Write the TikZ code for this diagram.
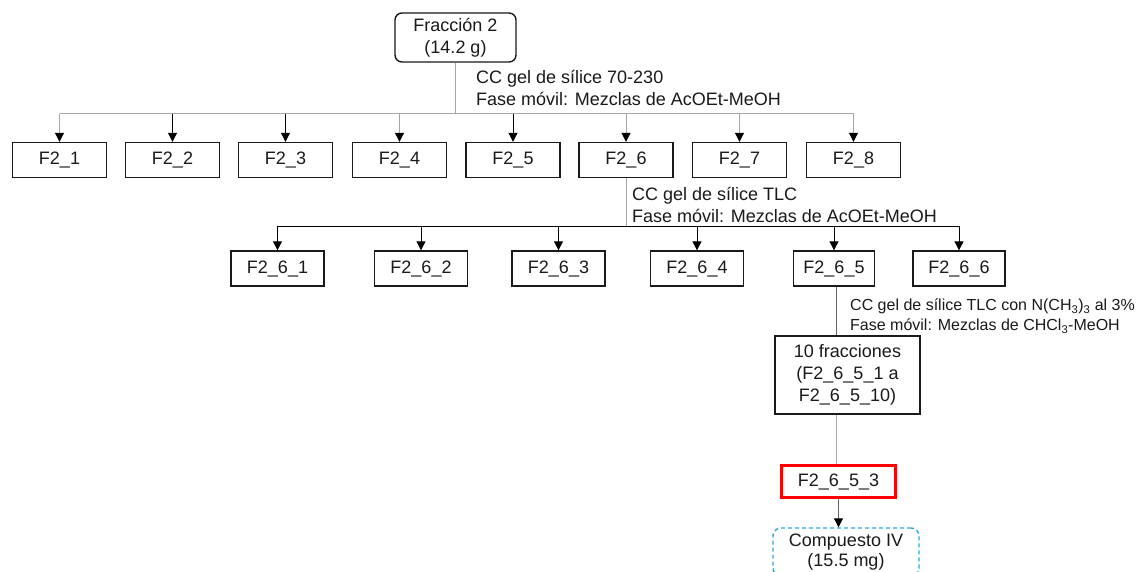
\documentclass[tikz,border=0pt]{standalone}
\usepackage{fontspec}
\setmainfont{Liberation Sans}
\usetikzlibrary{arrows.meta}
\definecolor{lgray}{HTML}{A6A6A6}
\definecolor{dgray}{HTML}{666666}
\definecolor{txt}{HTML}{1A1A1A}
\definecolor{cyanb}{HTML}{29A9E0}
\definecolor{redb}{HTML}{FF0000}
\begin{document}
\begin{tikzpicture}[x=1pt,y=-1pt,
  every node/.style={inner sep=0pt, text=txt},
  boxf/.style={draw=txt, line width=1.4pt, minimum width=94pt, minimum height=35pt,
    font=\fontsize{18}{22}\selectfont, align=center},
  note/.style={anchor=base west, font=\fontsize{18}{22}\selectfont},
  notesm/.style={anchor=base west, font=\fontsize{16}{20}\selectfont},
  arr/.style={-{Triangle[width=9pt,length=9pt,color=black]}, line width=1pt},
  lg/.style={draw=lgray, line width=1pt},
  bk/.style={draw=black, line width=1pt}]
\fill[white] (0,0) rectangle (1141,571);
\useasboundingbox (0,0) rectangle (1141,571);

% top
\node[boxf, rounded corners=7pt, minimum width=121pt, minimum height=49pt] (top) at (455.5,37.5) {Fracción 2\\(14.2 g)};
\coordinate (h1) at (455.5,113.5);
\node[note] (n1a) at (476,83) {CC gel de sílice 70-230};
\node[note] (n1b) at (476,105) {Fase móvil: Mezclas de AcOEt-MeOH};

% level 1
\node[boxf] (f21) at (59.5,160) {F2\_1};
\node[boxf] (f22) at (172.5,160) {F2\_2};
\node[boxf] (f23) at (285.5,160) {F2\_3};
\node[boxf] (f24) at (399.5,160) {F2\_4};
\node[boxf] (f25) at (513,160) {F2\_5};
\node[boxf] (f26) at (626,160) {F2\_6};
\node[boxf] (f27) at (739.5,160) {F2\_7};
\node[boxf] (f28) at (853.5,160) {F2\_8};

\draw[lg] (top.south) -- (h1);
\draw[lg] (f21.north |- h1) -- (f28.north |- h1);
\foreach \n/\c in {f21/lgray,f22/black,f23/black,f24/lgray,f25/black,f26/lgray,f27/lgray,f28/lgray}
  \draw[arr, draw=\c] (\n.north |- h1) -- (\n.north);

% level 2
\coordinate (h2) at (626,226);
\node[note] (n2a) at (632,200.5) {CC gel de sílice TLC};
\node[note] (n2b) at (632,222.5) {Fase móvil: Mezclas de AcOEt-MeOH};
\node[boxf, minimum width=93pt] (f261) at (277.5,268.5) {F2\_6\_1};
\node[boxf, minimum width=93pt] (f262) at (421,268.5) {F2\_6\_2};
\node[boxf, minimum width=93pt] (f263) at (558.5,268.5) {F2\_6\_3};
\node[boxf, minimum width=93pt] (f264) at (697,268.5) {F2\_6\_4};
\node[boxf, minimum width=81pt] (f265) at (834,268.5) {F2\_6\_5};
\node[boxf, minimum width=92pt] (f266) at (959,268.5) {F2\_6\_6};

\draw[lg] (f26.south) -- (f26.south |- h2);
\draw[bk] (f261.north |- h2) -- (f266.north |- h2);
\foreach \n in {f261,f262,f263,f264,f265,f266}
  \draw[arr, draw=black] (\n.north |- h2) -- (\n.north);

% level 3
\node[notesm] (n3a) at (850,310.5) {CC gel de sílice TLC con N(CH\textsubscript{3})\textsubscript{3} al 3\%};
\node[notesm] (n3b) at (850,330.5) {Fase móvil: Mezclas de CHCl\textsubscript{3}-MeOH};
\node[boxf, minimum width=145pt, minimum height=78pt] (frac) at (847.5,375) {10 fracciones\\(F2\_6\_5\_1 a\\F2\_6\_5\_10)};
\node[boxf, draw=redb, line width=3.2pt, minimum width=114pt, minimum height=32pt] (red) at (838.5,481.5) {F2\_6\_5\_3};
\node[boxf, draw=cyanb, dash pattern=on 4pt off 3pt, rounded corners=8pt, minimum width=146pt, minimum height=48pt, font=\fontsize{18}{20}\selectfont] (comp) at (846,552) {Compuesto IV\\(15.5 mg)};

\draw[draw=dgray, line width=1pt] ([xshift=2pt]f265.south) -- ([xshift=2pt]f265.south |- frac.north);
\draw[lg] ([xshift=2pt]f265.south |- frac.south) -- ([xshift=2pt]f265.south |- red.north);
\draw[arr, draw=dgray] (red.south) -- (red.south |- comp.north);
\end{tikzpicture}
\end{document}
